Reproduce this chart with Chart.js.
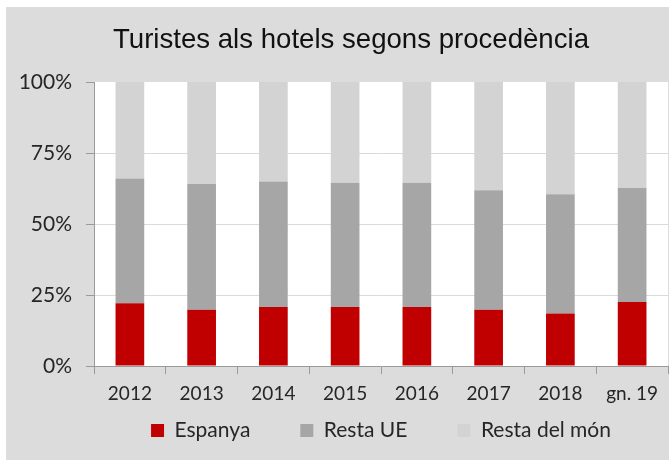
<!DOCTYPE html>
<html lang="ca">
  <head>
    <meta charset="UTF-8" />
    <title>Turistes als hotels segons procedència</title>
    <script src="https://cdn.jsdelivr.net/npm/chart.js"></script>
    <style>
      body {
        margin: 0;
        background-color: #ffffff;
        overflow: hidden;
      }
      .box {
        position: absolute;
        left: 6px;
        top: 7px;
        width: 663px;
        height: 453px;
        background-color: #dcdcdc;
        overflow: hidden;
      }
      .title {
        position: absolute;
        left: 107px;
        top: 16px;
        font-family: "Liberation Sans", Arial, sans-serif;
        font-size: 27.6px;
        line-height: 32px;
        color: #111;
        white-space: nowrap;
      }
      canvas {
        position: absolute;
        left: 0;
        top: 0;
      }
    </style>
  </head>

  <body>
    <div class="box">
      <canvas id="chart" width="663" height="453"></canvas>
      <div class="title">Turistes als hotels segons procedència</div>
    </div>

    <script>
      const years = ["2012", "2013", "2014", "2015", "2016", "2017", "2018", "gn. 19"];
      const espanya = [22.1, 19.8, 20.8, 20.8, 20.8, 19.8, 18.5, 22.5];
      const restaUE = [43.9, 44.3, 44.2, 43.7, 43.7, 42.1, 42.0, 40.2];
      const restaMon = [34.0, 35.9, 35.0, 35.5, 35.5, 38.1, 39.5, 37.3];
      const yTicks = [0, 25, 50, 75, 100];

      const axisGrey = "#9a9a9a";
      const textColor = "#262626";
      const legendPadding = 50;

      // white plot area on the grey card
      const plotBackground = {
        id: "plotBackground",
        beforeDraw(chart) {
          const { ctx, chartArea } = chart;
          ctx.save();
          ctx.fillStyle = "#ffffff";
          ctx.fillRect(
            chartArea.left,
            chartArea.top,
            chartArea.right - chartArea.left,
            chartArea.bottom - chartArea.top
          );
          ctx.restore();
        },
      };

      // the wide item spacing also pushes the legend row down, so pull the
      // legend box up over the axis labels and let it run to the canvas bottom
      const legendLift = {
        id: "legendLift",
        afterLayout(chart) {
          const legend = chart.legend;
          legend.top = chart.chartArea.bottom + 4;
          legend.bottom = chart.height;
          legend.height = legend.bottom - legend.top;
        },
      };

      const ctx = document.getElementById("chart").getContext("2d");
      new Chart(ctx, {
        type: "bar",
        data: {
          labels: years,
          datasets: [
            { label: "Espanya", data: espanya, backgroundColor: "#c00000" },
            { label: "Resta UE", data: restaUE, backgroundColor: "#a6a6a6" },
            { label: "Resta del món", data: restaMon, backgroundColor: "#d3d3d3" },
          ],
        },
        options: {
          responsive: false,
          animation: false,
          events: [],
          barPercentage: 0.4,
          categoryPercentage: 1.0,
          layout: { padding: { top: 75, right: 1, left: 0, bottom: 0 } },
          scales: {
            x: {
              stacked: true,
              afterFit: (scale) => {
                scale.height = 40;
              },
              grid: {
                offset: true,
                drawOnChartArea: false,
                tickLength: 8,
                color: axisGrey,
              },
              border: { color: axisGrey },
              ticks: {
                padding: 8,
                color: textColor,
                font: { family: "Lato", size: 19 },
              },
            },
            y: {
              stacked: true,
              min: 0,
              max: 100,
              afterFit: (scale) => {
                scale.width = 88;
              },
              afterBuildTicks: (scale) => {
                scale.ticks = yTicks.map((v) => ({ value: v }));
              },
              grid: {
                tickLength: 8,
                tickColor: axisGrey,
                color: (c) =>
                  c.tick && c.tick.value > 0 && c.tick.value < 100
                    ? "#dadada"
                    : "rgba(0,0,0,0)",
              },
              border: { color: axisGrey },
              ticks: {
                padding: 14,
                color: textColor,
                font: { family: "Lato", size: 21 },
                callback: (v) => v + "%",
              },
            },
          },
          plugins: {
            tooltip: { enabled: false },
            legend: {
              position: "bottom",
              fullSize: false,
              align: "center",
              maxHeight: 54,
              labels: {
                boxWidth: 13,
                boxHeight: 13,
                padding: legendPadding,
                color: textColor,
                font: { family: "Lato", size: 21 },
              },
            },
          },
        },
        plugins: [plotBackground, legendLift],
      });
    </script>
  </body>
</html>
